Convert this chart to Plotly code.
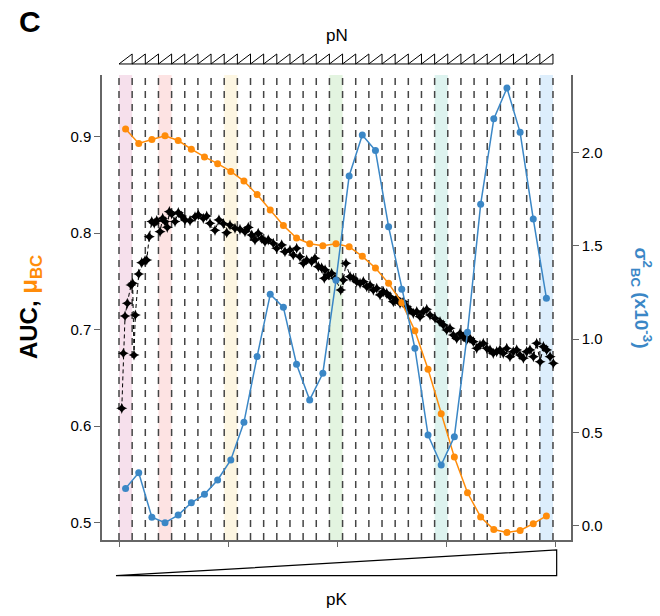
import plotly.graph_objects as go

# ---------------- data ----------------
n_bins = 33
bin_centers = [i + 0.5 for i in range(n_bins)]
bin_edges = list(range(n_bins + 1))

mu_bc = [0.908, 0.893, 0.897, 0.901, 0.896, 0.887, 0.879, 0.872, 0.864, 0.854,
         0.840, 0.824, 0.808, 0.795, 0.789, 0.787, 0.789, 0.786, 0.776, 0.764,
         0.748, 0.728, 0.699, 0.659, 0.613, 0.568, 0.531, 0.506, 0.493, 0.490,
         0.492, 0.499, 0.507]

sigma2_bc = [0.200, 0.284, 0.045, 0.016, 0.057, 0.123, 0.168, 0.245, 0.352, 0.554,
             0.906, 1.240, 1.170, 0.865, 0.674, 0.817, 1.315, 1.874, 2.094, 2.010,
             1.602, 1.267, 0.951, 0.486, 0.325, 0.477, 1.036, 1.722, 2.180, 2.345,
             2.108, 1.644, 1.219]

auc_x = [0.21, 0.33, 0.46, 0.63, 0.91, 1.04, 1.14, 1.24, 1.50, 1.73,
         1.98, 2.11, 2.30, 2.49, 2.68, 2.87, 3.12, 3.32, 3.50, 3.67,
         3.83, 4.01, 4.26, 4.51, 4.77, 5.02, 5.40, 5.78, 6.03, 6.41,
         6.67, 6.92, 7.30, 7.60, 7.93, 8.19, 8.44, 8.82, 9.20, 9.58,
         9.83, 10.09, 10.34, 10.59, 10.85, 11.10, 11.35, 11.73, 11.99, 12.37,
         12.62, 13.00, 13.25, 13.51, 13.76, 14.02, 14.27, 14.65, 14.90, 15.16,
         15.41, 15.61, 15.67, 15.92, 16.17, 16.43, 16.86, 17.06, 17.26, 17.57,
         17.82, 18.08, 18.33, 18.58, 18.84, 19.09, 19.34, 19.60, 19.85, 20.10,
         20.36, 20.61, 20.86, 21.12, 21.37, 21.62, 21.88, 22.13, 22.38, 22.64,
         22.89, 23.14, 23.40, 23.65, 24.03, 24.41, 24.66, 24.92, 25.17, 25.42,
         25.68, 25.93, 26.18, 26.44, 26.69, 26.94, 27.20, 27.45, 27.70, 27.96,
         28.21, 28.46, 28.72, 28.97, 29.22, 29.48, 29.73, 29.98, 30.24, 30.49,
         30.75, 31.00, 31.25, 31.51, 31.76, 32.02, 32.27, 32.52, 32.78, 33.03]

auc_y = [0.6185, 0.6755, 0.7142, 0.7273, 0.7463, 0.7480, 0.6738, 0.7152, 0.7577, 0.7694,
         0.7715, 0.7722, 0.7964, 0.8120, 0.8103, 0.8130, 0.8016, 0.8154, 0.8120, 0.8061,
         0.8223, 0.8199, 0.8120, 0.8213, 0.8178, 0.8137, 0.8130, 0.8170, 0.8189, 0.8154,
         0.8178, 0.8103, 0.8030, 0.8137, 0.8100, 0.8005, 0.8085, 0.8050, 0.8040, 0.8016,
         0.8060, 0.7981, 0.7930, 0.7999, 0.7947, 0.7912, 0.7930, 0.7895, 0.7844, 0.7878,
         0.7808, 0.7826, 0.7774, 0.7844, 0.7756, 0.7688, 0.7722, 0.7705, 0.7740, 0.7653,
         0.7640, 0.7533, 0.7619, 0.7567, 0.7584, 0.7533, 0.7411, 0.7515, 0.7688, 0.7549,
         0.7533, 0.7498, 0.7481, 0.7498, 0.7446, 0.7463, 0.7411, 0.7429, 0.7360, 0.7394,
         0.7377, 0.7342, 0.7290, 0.7325, 0.7273, 0.7290, 0.7238, 0.7204, 0.7170, 0.7187,
         0.7135, 0.7187, 0.7211, 0.7152, 0.7118, 0.7083, 0.7049, 0.6997, 0.7014, 0.6945,
         0.6910, 0.6963, 0.6927, 0.6893, 0.6910, 0.6876, 0.6807, 0.6841, 0.6859, 0.6807,
         0.6790, 0.6755, 0.6772, 0.6790, 0.6755, 0.6807, 0.6720, 0.6772, 0.6790, 0.6738,
         0.6704, 0.6772, 0.6790, 0.6720, 0.6859, 0.6668, 0.6824, 0.6790, 0.6720, 0.6652]

highlight_bins = [0, 3, 8, 16, 24, 32]
highlight_colors = ["#f6e0ec", "#fde3e3", "#fdf6e2", "#e3f4e0", "#ddf3ef", "#ddeefc"]

left_ticks = [0.5, 0.6, 0.7, 0.8, 0.9]
right_ticks = [0.0, 0.5, 1.0, 1.5, 2.0]
x_ticks = [0, 8.3, 16.6, 24.9, 33.2]

ORANGE = "#ff8c0a"
BLUE = "#3b87c6"
AXIS = "#666666"

# ---------------- figure ----------------
fig = go.Figure()

fig.add_trace(go.Scatter(
    x=auc_x, y=auc_y, mode="lines+markers",
    line=dict(color="black", width=1, dash="4px,3px"),
    marker=dict(symbol="star-diamond", size=8, color="black"),
    yaxis="y", showlegend=False))

fig.add_trace(go.Scatter(
    x=bin_centers, y=mu_bc, mode="lines+markers",
    line=dict(color=ORANGE, width=1.5),
    marker=dict(symbol="circle", size=7, color=ORANGE),
    yaxis="y", showlegend=False))

fig.add_trace(go.Scatter(
    x=bin_centers, y=sigma2_bc, mode="lines+markers",
    line=dict(color=BLUE, width=1.5),
    marker=dict(symbol="circle", size=7, color=BLUE),
    yaxis="y2", showlegend=False))

shapes = []
for b, c in zip(highlight_bins, highlight_colors):
    shapes.append(dict(type="rect", xref="x", yref="paper", x0=b, x1=b + 1,
                       y0=0, y1=1, fillcolor=c, line=dict(width=0), layer="below"))
for e in bin_edges:
    shapes.append(dict(type="line", xref="x", yref="paper", x0=e, x1=e,
                       y0=0.0, y1=0.995, layer="below",
                       line=dict(color="#444444", width=1.5, dash="7px,6px")))

# pN sawtooth on top
yb, yt = 1.0237, 1.0452
path = f"M 0,{yb} L {n_bins},{yb} M 0,{yb}"
for k in range(1, n_bins + 1):
    path += f" L {k},{yt} L {k},{yb}"
shapes.append(dict(type="path", xref="x", yref="paper", path=path,
                   line=dict(color="black", width=1)))
# pK wedge at bottom
shapes.append(dict(type="path", xref="x", yref="paper",
                   path="M -0.23,-0.0768 L 33.28,-0.0215 L 33.28,-0.0768 Z",
                   line=dict(color="black", width=1.2), fillcolor="rgba(0,0,0,0)"))

annotations = [
    dict(text="pN", x=0.5, y=1.086, xref="paper", yref="paper", showarrow=False,
         font=dict(size=17, color="black"), xanchor="center", yanchor="middle"),
    dict(text="pK", x=0.5, y=-0.129, xref="paper", yref="paper", showarrow=False,
         font=dict(size=17, color="black"), xanchor="center", yanchor="middle"),
    dict(text="<b>C</b>", x=-0.1535, y=1.114, xref="paper", yref="paper",
         showarrow=False, font=dict(size=30, color="black"),
         xanchor="center", yanchor="middle"),
    dict(text=f"<b>AUC, <span style='color:{ORANGE}'>μ<sub>BC</sub></span></b>",
         x=-0.1535, y=0.501, xref="paper", yref="paper", showarrow=False,
         textangle=-90, font=dict(size=24, color="black"),
         xanchor="center", yanchor="middle"),
    dict(text="<b>σ<sup>2</sup><sub>BC</sub> (x10<sup>-3</sup>)</b>",
         x=1.151, y=0.52, xref="paper", yref="paper", showarrow=False,
         textangle=90, font=dict(size=19, color=BLUE),
         xanchor="center", yanchor="middle"),
]

fig.update_layout(
    width=660, height=616,
    margin=dict(l=102, r=89, t=75, b=76, pad=0),
    paper_bgcolor="white", plot_bgcolor="white",
    font=dict(family="Liberation Sans, Arial, sans-serif", size=15, color="black"),
    shapes=shapes, annotations=annotations,
    xaxis=dict(range=[-1.293, 34.37], showgrid=False, zeroline=False,
               showline=True, linecolor=AXIS, linewidth=1.5,
               tickmode="array", tickvals=x_ticks, showticklabels=False,
               ticks="outside", ticklen=5, tickcolor=AXIS, tickwidth=1.2),
    yaxis=dict(range=[0.4821, 0.9639], showgrid=False, zeroline=False,
               showline=True, linecolor=AXIS, linewidth=1.5,
               tickmode="array", tickvals=left_ticks,
               ticktext=[f"{v:.1f}" for v in left_ticks],
               ticks="outside", ticklen=6, tickcolor=AXIS, tickwidth=1.2,
               tickfont=dict(size=15)),
    yaxis2=dict(range=[-0.0766, 2.415], overlaying="y", side="right",
                showgrid=False, zeroline=False,
                showline=True, linecolor=AXIS, linewidth=1.5,
                tickmode="array", tickvals=right_ticks,
                ticktext=[f"{v:.1f}" for v in right_ticks],
                ticks="outside", ticklen=6, tickcolor=AXIS, tickwidth=1.2,
                tickfont=dict(size=15)),
)

fig.write_html("out.html",
               config={"displayModeBar": False},
               post_script="document.body.style.margin='0';document.body.style.padding='0';")
